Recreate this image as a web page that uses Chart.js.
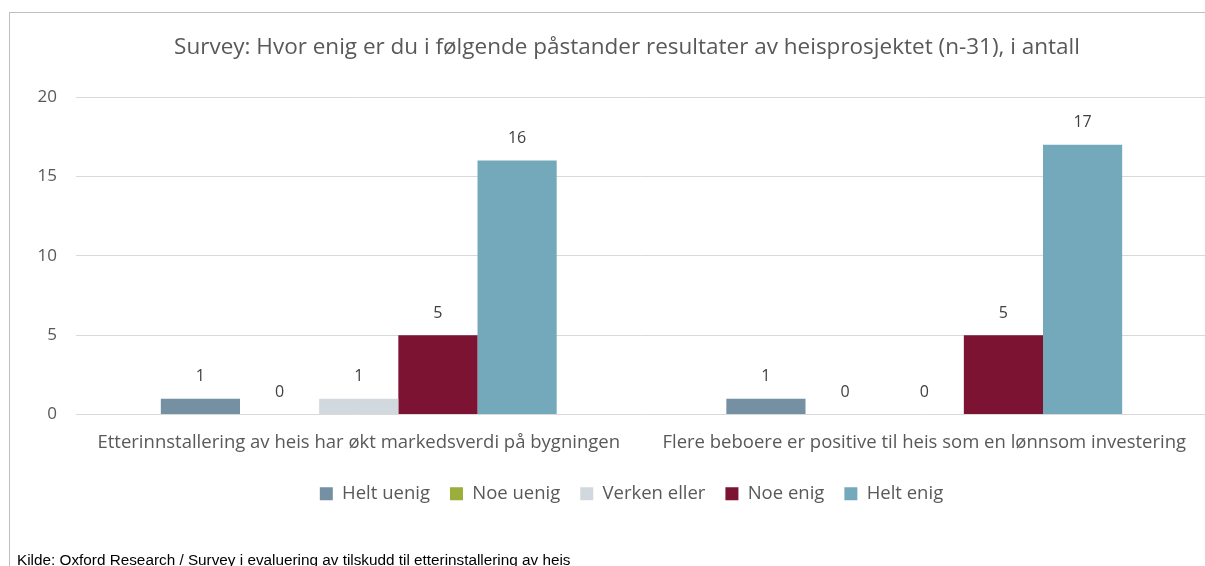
<!DOCTYPE html>
<html>
<head>
<meta charset="utf-8">
<script src="https://cdn.jsdelivr.net/npm/chart.js@4/dist/chart.umd.min.js"></script>
<style>
html,body{margin:0;padding:0;background:#fff;overflow:hidden;width:1205px;height:566px;}
#frame{position:absolute;left:9px;top:12px;width:1300px;height:560px;border-left:1px solid #bfbfbf;border-top:1px solid #bfbfbf;box-sizing:border-box;}
#c{position:absolute;left:0;top:0;}
#src{position:absolute;left:17px;top:551px;font-family:"Liberation Sans",Arial,sans-serif;font-size:15.3px;color:#000;white-space:nowrap;}
</style>
</head>
<body>
<div id="frame"></div>
<canvas id="c" width="1212" height="566"></canvas>
<div id="src">Kilde: Oxford Research / Survey i evaluering av tilskudd til etterinstallering av heis</div>
<script>
const categories = [
  "Etterinnstallering av heis har økt markedsverdi på bygningen",
  "Flere beboere er positive til heis som en lønnsom investering"
];
const seriesNames = ["Helt uenig", "Noe uenig", "Verken eller", "Noe enig", "Helt enig"];
const heltUenig = [1, 1];
const noeUenig = [0, 0];
const verkenEller = [1, 0];
const noeEnig = [5, 5];
const heltEnig = [16, 17];
const yTicks = [0, 5, 10, 15, 20];
const titleText = "Survey: Hvor enig er du i følgende påstander resultater av heisprosjektet (n-31), i antall";
const colors = ["#7490a2", "#9bad3b", "#d1d9df", "#7d1332", "#74a8bb"];

const FONT = "'Open Sans', sans-serif";
const values = [heltUenig, noeUenig, verkenEller, noeEnig, heltEnig];

const labelPlugin = {
  id: 'valueLabels',
  afterLayout(chart) {
    // the original chart frame is wider than the visible area: centre title and legend on it
    if (chart.titleBlock) { chart.titleBlock.left += 23.5; chart.titleBlock.right += 23.5; }
    if (chart.legend) { chart.legend.left += 28; chart.legend.right += 28; }
  },
  afterDatasetsDraw(chart) {
    const ctx = chart.ctx;
    ctx.save();
    ctx.font = "16px " + FONT;
    ctx.fillStyle = "#404040";
    ctx.textAlign = "center";
    ctx.textBaseline = "middle";
    chart.data.datasets.forEach((ds, i) => {
      const meta = chart.getDatasetMeta(i);
      meta.data.forEach((el, j) => {
        ctx.fillText(String(ds.data[j]), el.x, el.y - 22);
      });
    });
    ctx.restore();
  }
};

new Chart(document.getElementById('c'), {
  type: 'bar',
  data: {
    labels: categories,
    datasets: seriesNames.map((n, i) => ({
      label: n,
      data: values[i],
      backgroundColor: colors[i],
      borderWidth: 0,
      categoryPercentage: 0.7,
      barPercentage: 1.0
    }))
  },
  options: {
    responsive: false,
    animation: false,
    layout: { padding: { top: 30, left: 0, right: 5, bottom: 53 } },
    plugins: {
      title: {
        display: true,
        text: titleText,
        color: "#595959",
        font: { family: FONT, size: 22.5, weight: 'normal' },
        padding: { top: 4.5, bottom: 35.5 }
      },
      legend: {
        position: 'bottom',
        labels: {
          color: "#595959",
          font: { family: FONT, size: 18.5 },
          boxWidth: 13,
          boxHeight: 13,
          padding: 20
        }
      },
      tooltip: { enabled: false }
    },
    scales: {
      x: {
        grid: { display: false, drawTicks: false },
        border: { display: false },
        afterFit(scale) { scale.height = 50; },
        ticks: { color: "#595959", font: { family: FONT, size: 18.5 }, padding: 17, maxRotation: 0 }
      },
      y: {
        min: 0, max: 20,
        afterBuildTicks(scale) { scale.ticks = yTicks.map(v => ({ value: v })); },
        afterFit(scale) { scale.width = 76; },
        grid: { color: "#d9d9d9", lineWidth: 1, drawTicks: false },
        border: { display: false },
        ticks: { color: "#595959", font: { family: FONT, size: 17 }, padding: 19 }
      }
    }
  },
  plugins: [labelPlugin]
});
</script>
</body>
</html>
